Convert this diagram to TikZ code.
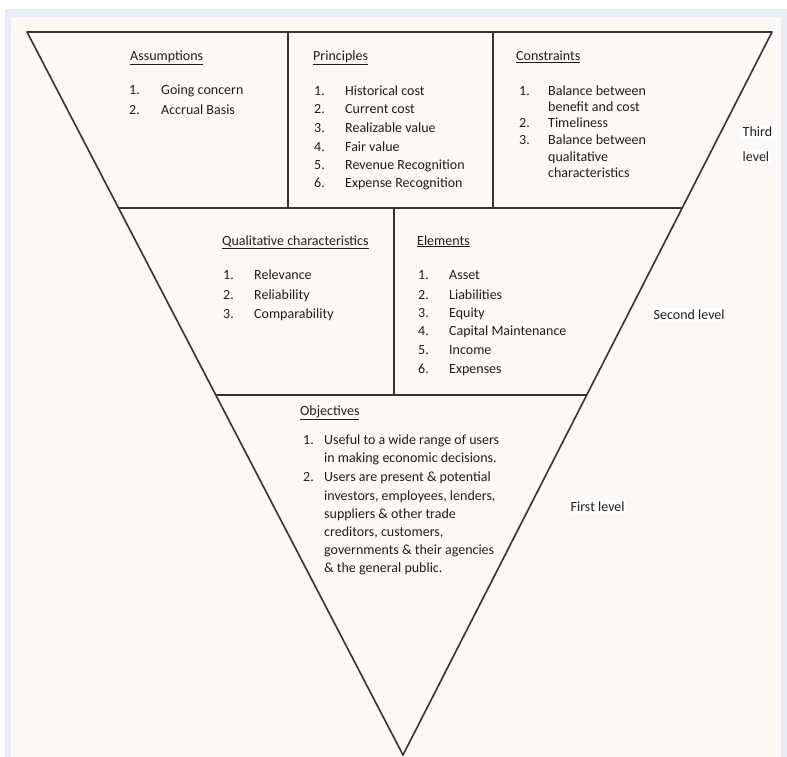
\documentclass[tikz,border=0pt]{standalone}
\usepackage{fontspec}
\setmainfont{Carlito}
\definecolor{bgc}{HTML}{FCF8F6}
\definecolor{framec}{HTML}{E8EDF5}
\definecolor{inkc}{HTML}{1E1E1E}
\definecolor{linec}{HTML}{333333}
\begin{document}
\begin{tikzpicture}[x=1pt,y=-1pt,
  txt/.style={font=\fontsize{14}{17}\selectfont, text=inkc, inner sep=0pt, anchor=base west},
  lvl/.style={txt, fill=white, inner sep=1.5pt},
  edge/.style={draw=linec, line width=1.6pt, line join=round},
  divider/.style={draw=linec, line width=1.2pt}]
\useasboundingbox (0,0) rectangle (787,757);
\fill[white] (0,0) rectangle (787,757);
\fill[framec] (5,9) rectangle (787,757);
\fill[bgc] (11,17) rectangle (781,757);

% triangle geometry
\coordinate (TL) at (27,32);
\coordinate (TR) at (772,32);
\coordinate (AP) at (403,755);
\coordinate (L1) at (118.5,208);
\coordinate (R1) at (682.2,208);
\coordinate (L2) at (215.8,395);
\coordinate (R2) at (586.7,395);
\coordinate (V1t) at (288,32);
\coordinate (V1b) at (288,208);
\coordinate (V2t) at (493,32);
\coordinate (V2b) at (493,208);
\coordinate (V3t) at (394,208);
\coordinate (V3b) at (394,395);

\draw[edge] (TL) -- (TR) -- (AP) -- cycle;
\draw[edge] (L1) -- (R1);
\draw[edge] (L2) -- (R2);
\draw[divider] (V1t) -- (V1b);
\draw[divider] (V2t) -- (V2b);
\draw[divider] (V3t) -- (V3b);

% Assumptions
\node[txt] (ah) at (130,61) {\underline{Assumptions}};
\foreach \n/\t/\y [count=\i] in {1./Going concern/95, 2./Accrual Basis/115}{
  \node[txt] (an\i) at (129,\y) {\n};
  \node[txt] (at\i) at (161,\y) {\t};
}

% Principles
\node[txt] (ph) at (313,61) {\underline{Principles}};
\foreach \n/\t/\y [count=\i] in {1./Historical cost/96, 2./Current cost/114, 3./Realizable value/132, 4./Fair value/151, 5./Revenue Recognition/169, 6./Expense Recognition/187}{
  \node[txt] (pn\i) at (314,\y) {\n};
  \node[txt] (pt\i) at (345,\y) {\t};
}

% Constraints
\node[txt] (ch) at (516,61) {\underline{Constraints}};
\node[txt] (cn1) at (519,96) {1.};
\node[txt] (ct1) at (548,96) {Balance between};
\node[txt] (ct1b) at (548,112) {benefit and cost};
\node[txt] (cn2) at (519,128) {2.};
\node[txt] (ct2) at (548,128) {Timeliness};
\node[txt] (cn3) at (519,145) {3.};
\node[txt] (ct3) at (548,145) {Balance between};
\node[txt] (ct3b) at (548,161) {qualitative};
\node[txt] (ct3c) at (548,177) {characteristics};

\node[lvl] (third) at (741,137) {Third};
\node[lvl] (thirdb) at (741,161) {level};

% Qualitative characteristics
\node[txt] (qh) at (222,245) {\underline{Qualitative characteristics}};
\foreach \n/\t/\y [count=\i] in {1./Relevance/279, 2./Reliability/299, 3./Comparability/318}{
  \node[txt] (qn\i) at (223,\y) {\n};
  \node[txt] (qt\i) at (254,\y) {\t};
}

% Elements
\node[txt] (eh) at (417,245) {\underline{Elements}};
\foreach \n/\t/\y [count=\i] in {1./Asset/279, 2./Liabilities/299, 3./Equity/317, 4./Capital Maintenance/335, 5./Income/354, 6./Expenses/373}{
  \node[txt] (en\i) at (418,\y) {\n};
  \node[txt] (et\i) at (449,\y) {\t};
}

\node[lvl] (second) at (652,319) {Second level};

% Objectives
\node[txt] (oh) at (300,415) {\underline{Objectives}};
\node[txt] (on1) at (303,444) {1.};
\node[txt] (ot1) at (324,444) {Useful to a wide range of users};
\node[txt] (ot1b) at (324,462) {in making economic decisions.};
\node[txt] (on2) at (303,481) {2.};
\node[txt] (ot2) at (324,481) {Users are present \& potential};
\node[txt] (ot2b) at (324,500) {investors, employees, lenders,};
\node[txt] (ot2c) at (324,518) {suppliers \& other trade};
\node[txt] (ot2d) at (324,536) {creditors, customers,};
\node[txt] (ot2e) at (324,554) {governments \& their agencies};
\node[txt] (ot2f) at (324,572) {\& the general public.};

\node[lvl] (first) at (569,511) {First level};
\end{tikzpicture}
\end{document}
